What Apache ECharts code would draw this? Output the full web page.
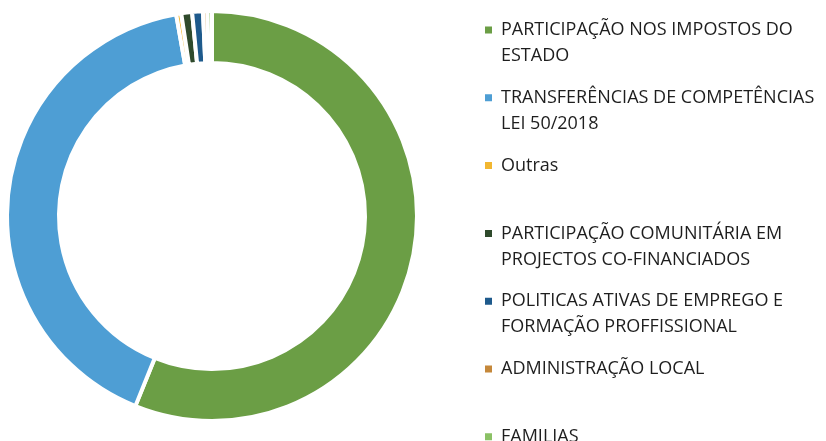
<!DOCTYPE html>
<html>
<head>
<meta charset="utf-8">
<script src="https://cdn.jsdelivr.net/npm/echarts@6/dist/echarts.min.js"></script>
<style>
html,body{margin:0;padding:0;background:#fff;}
#chart{width:826px;height:441px;}
</style>
</head>
<body>
<div id="chart"></div>
<script>
// categorias e valores (% aproximados)
const categories = [
	'PARTICIPAÇÃO NOS IMPOSTOS DO ESTADO',
	'TRANSFERÊNCIAS DE COMPETÊNCIAS LEI 50/2018',
	'Outras',
	'PARTICIPAÇÃO COMUNITÁRIA EM PROJECTOS CO-FINANCIADOS',
	'POLITICAS ATIVAS DE EMPREGO E FORMAÇÃO PROFFISSIONAL',
	'ADMINISTRAÇÃO LOCAL',
	'FAMILIAS'
]
const legendLabels = [
	'PARTICIPAÇÃO NOS IMPOSTOS DO\nESTADO',
	'TRANSFERÊNCIAS DE COMPETÊNCIAS\nLEI 50/2018',
	'Outras\n',
	'PARTICIPAÇÃO COMUNITÁRIA EM\nPROJECTOS CO-FINANCIADOS',
	'POLITICAS ATIVAS DE EMPREGO E\nFORMAÇÃO PROFFISSIONAL',
	'ADMINISTRAÇÃO LOCAL\n',
	'FAMILIAS\n'
]
const values = [56.1, 41.1, 0.4, 0.85, 0.85, 0.35, 0.35]
const colors = ['#6b9e45', '#4e9ed4', '#f2b731', '#2f4a2c', '#1e5a8c', '#c5883a', '#8bc165']

let chartObj = echarts.init(document.getElementById('chart'))

let pieData = []
for (let i = 0; i < categories.length; i++) {
	pieData.push({ name: categories[i], value: values[i] })
}

let option = {
	color: colors,
	animation: false,
	legend: {
		orient: 'vertical',
		left: 485,
		top: 17,
		height: 700,
		padding: 0,
		itemGap: 15.8,
		itemWidth: 7,
		itemHeight: 33,
		// quadrado no topo da caixa do ícone, alinhado com a 1ª linha do texto
		icon: 'path://M0,0H7V7H0Z M0,33H0.01V33.01H0Z',
		itemStyle: { borderWidth: 0 },
		textStyle: {
			fontFamily: 'Open Sans',
			fontSize: 18,
			lineHeight: 26,
			color: '#1e1e1e',
			padding: [0, 0, 0, 4]
		},
		formatter: function (name) {
			return legendLabels[categories.indexOf(name)]
		},
		data: categories
	},
	series: [
		{
			type: 'pie',
			center: [212, 216],
			radius: [153, 205],
			startAngle: 90,
			clockwise: true,
			label: { show: false },
			labelLine: { show: false },
			emphasis: { disabled: true },
			itemStyle: {
				borderColor: '#fff',
				borderWidth: 4
			},
			data: pieData
		}
	]
}
option && chartObj.setOption(option)
</script>
</body>
</html>
